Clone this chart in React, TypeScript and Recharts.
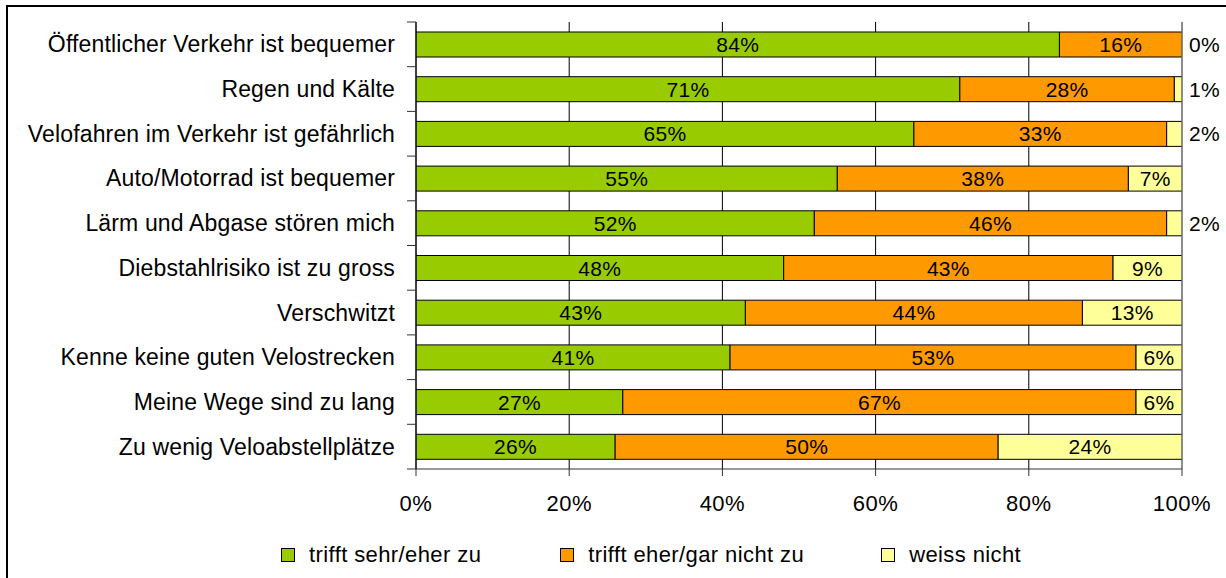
import React from "react";
import {
  BarChart,
  Bar,
  XAxis,
  YAxis,
  CartesianGrid,
  Legend,
  LabelList,
  ReferenceLine,
} from "recharts";

const categories = [
  "Öffentlicher Verkehr ist bequemer",
  "Regen und Kälte",
  "Velofahren im Verkehr ist gefährlich",
  "Auto/Motorrad ist bequemer",
  "Lärm und Abgase stören mich",
  "Diebstahlrisiko ist zu gross",
  "Verschwitzt",
  "Kenne keine guten Velostrecken",
  "Meine Wege sind zu lang",
  "Zu wenig Veloabstellplätze",
];
const trifftZu = [84, 71, 65, 55, 52, 48, 43, 41, 27, 26];
const trifftNicht = [16, 28, 33, 38, 46, 43, 44, 53, 67, 50];
const weissNicht = [0, 1, 2, 7, 2, 9, 13, 6, 6, 24];
const xTicks = [0, 20, 40, 60, 80, 100];

const seriesNames = ["trifft sehr/eher zu", "trifft eher/gar nicht zu", "weiss nicht"];
const seriesColors = ["#99CC00", "#FF9900", "#FFFF99"];

const data = categories.map((c, i) => ({
  cat: c,
  a: trifftZu[i],
  b: trifftNicht[i],
  c: weissNicht[i],
}));

const FONT = '"Liberation Sans", Arial, sans-serif';
const BAND = 447 / categories.length;

const YTick = (props: any) => {
  const { x, y, payload, index } = props;
  return (
    <g>
      <text
        x={x}
        y={y + 8}
        textAnchor="end"
        fontFamily={FONT}
        fontSize={23}
        letterSpacing={0.15}
        fill="#000"
      >
        {payload.value}
      </text>
      <line x1={x + 12} x2={x + 21} y1={y - BAND / 2} y2={y - BAND / 2} stroke="#333" />
      {index === categories.length - 1 && (
        <line x1={x + 12} x2={x + 21} y1={y + BAND / 2} y2={y + BAND / 2} stroke="#333" />
      )}
    </g>
  );
};

const XTick = (props: any) => {
  const { x, y, payload } = props;
  return (
    <text
      x={x}
      y={y + 35}
      textAnchor="middle"
      fontFamily={FONT}
      fontSize={22}
      letterSpacing={0.5}
      fill="#000"
    >
      {payload.value + "%"}
    </text>
  );
};

const CenterLabel = (props: any) => {
  const { x, y, width, height, value } = props;
  return (
    <text
      x={x + width / 2}
      y={y + height / 2 + 7.5}
      textAnchor="middle"
      fontFamily={FONT}
      fontSize={21}
      letterSpacing={0.3}
      fill="#000"
    >
      {value + "%"}
    </text>
  );
};

const OutsideText = ({ x, y, value }: any) => (
  <text
    x={x}
    y={y}
    textAnchor="start"
    fontFamily={FONT}
    fontSize={21}
    letterSpacing={0.3}
    fill="#000"
  >
    {value + "%"}
  </text>
);

const LastLabel = (props: any) => {
  const { x, y, width, height, value } = props;
  if (value <= 2) {
    return <OutsideText x={x + width + 7} y={y + height / 2 + 7.5} value={value} />;
  }
  return <CenterLabel {...props} />;
};

// label for a "weiss nicht" value of 0 (its bar has no width), placed after the stack end
const ZeroLabel = (props: any) => {
  const { x, y, width, height, value } = props;
  if (value !== 0) return null;
  return <OutsideText x={x + width + 7} y={y + height / 2 + 7.5} value={value} />;
};

const LegendContent = () => (
  <div
    style={{
      display: "flex",
      alignItems: "center",
      height: 30,
      fontFamily: FONT,
      fontSize: 22,
      whiteSpace: "nowrap",
    }}
  >
    {seriesNames.map((n, i) => (
      <div key={n} style={{ display: "flex", alignItems: "center", marginRight: i === 0 ? 79 : 77 }}>
        <span
          style={{
            display: "inline-block",
            width: 14,
            height: 14,
            boxSizing: "border-box",
            border: "1px solid #000",
            background: seriesColors[i],
            marginRight: 14,
          }}
        />
        <span style={{ letterSpacing: 0.4, color: "#000" }}>{n}</span>
      </div>
    ))}
  </div>
);

export default function App() {
  return (
    <div
      style={{
        position: "fixed",
        left: 0,
        top: 0,
        width: 1226,
        height: 578,
        background: "#fff",
        overflow: "hidden",
        fontFamily: FONT,
      }}
    >
      <div
        style={{
          position: "absolute",
          left: 6,
          top: 5,
          width: 1240,
          height: 600,
          borderLeft: "2px solid #000",
          borderTop: "2px solid #000",
        }}
      />
      <div style={{ position: "absolute", left: 0, top: 0 }}>
        <BarChart
          width={1226}
          height={578}
          data={data}
          layout="vertical"
          margin={{ top: 22, right: 44, left: 0, bottom: 8 }}
          barSize={25}
        >
          <CartesianGrid horizontal={false} stroke="#000" />
          <XAxis
            type="number"
            domain={[0, 100]}
            ticks={xTicks}
            height={71}
            tickSize={7}
            tickMargin={0}
            tick={<XTick />}
            axisLine={{ stroke: "#333" }}
            tickLine={{ stroke: "#333" }}
            interval={0}
            allowDataOverflow
          />
          <YAxis
            type="category"
            dataKey="cat"
            width={416}
            tickSize={9}
            tickMargin={12}
            tickLine={false}
            axisLine={{ stroke: "#000" }}
            tick={<YTick />}
            interval={0}
          />
          <ReferenceLine x={100} stroke="#999" />
          <Bar dataKey="a" name={seriesNames[0]} stackId="s" fill={seriesColors[0]} stroke="#000" strokeWidth={1} isAnimationActive={false}>
            <LabelList dataKey="a" content={<CenterLabel />} />
          </Bar>
          <Bar dataKey="b" name={seriesNames[1]} stackId="s" fill={seriesColors[1]} stroke="#000" strokeWidth={1} isAnimationActive={false}>
            <LabelList dataKey="b" content={<CenterLabel />} />
            <LabelList dataKey="c" content={<ZeroLabel />} />
          </Bar>
          <Bar dataKey="c" name={seriesNames[2]} stackId="s" fill={seriesColors[2]} stroke="#000" strokeWidth={1} isAnimationActive={false}>
            <LabelList dataKey="c" content={<LastLabel />} />
          </Bar>
          <Legend
            verticalAlign="bottom"
            content={<LegendContent />}
            wrapperStyle={{ left: 281, width: "auto", bottom: 8 }}
          />
        </BarChart>
      </div>
    </div>
  );
}
